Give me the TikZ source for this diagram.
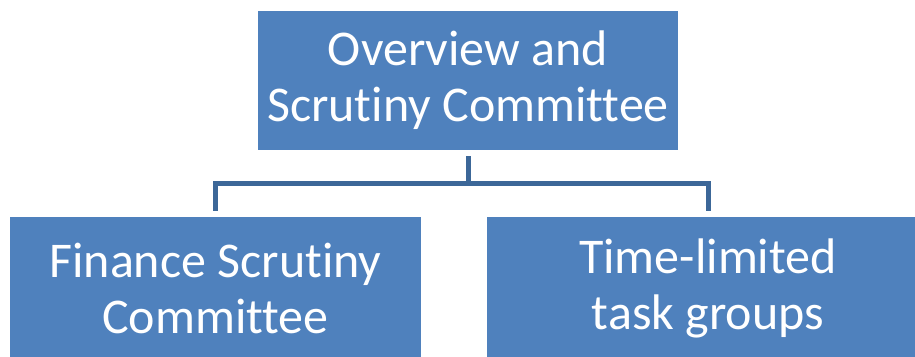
\documentclass[tikz,border=0pt]{standalone}
\usepackage{fontspec}
\setmainfont{Carlito}[RawFeature={-liga}]
\definecolor{boxblue}{HTML}{4F81BD}
\definecolor{lineblue}{HTML}{3C6798}
\begin{document}
\begin{tikzpicture}[x=1pt,y=1pt,
  orgbox/.style={rectangle, fill=boxblue, draw=none, text=white, align=center,
    inner sep=0pt, font=\fontsize{50}{56}\selectfont},
  conn/.style={draw=lineblue, line width=5pt}]
\useasboundingbox (0,0) rectangle (915,356);
\begin{scope}
\clip (0,0) rectangle (915,356);
\node[orgbox, minimum width=420pt, minimum height=139pt] (top) at (468,275.5) {Overview and\\Scrutiny Committee};
\node[orgbox, minimum width=411pt, minimum height=143pt] (left) at (215.5,67.5) {Finance Scrutiny\\Committee};
\node[orgbox, minimum width=442pt, minimum height=143pt] (right) at (708,67.5) {Time-limited\\task groups};
\end{scope}
\coordinate (j) at (468,172);
\draw[conn] ([yshift=-6pt]top.south) -- (j);
\draw[conn] ([yshift=6pt]left.north) |- (j) -| ([yshift=6pt]right.north);
\end{tikzpicture}
\end{document}
